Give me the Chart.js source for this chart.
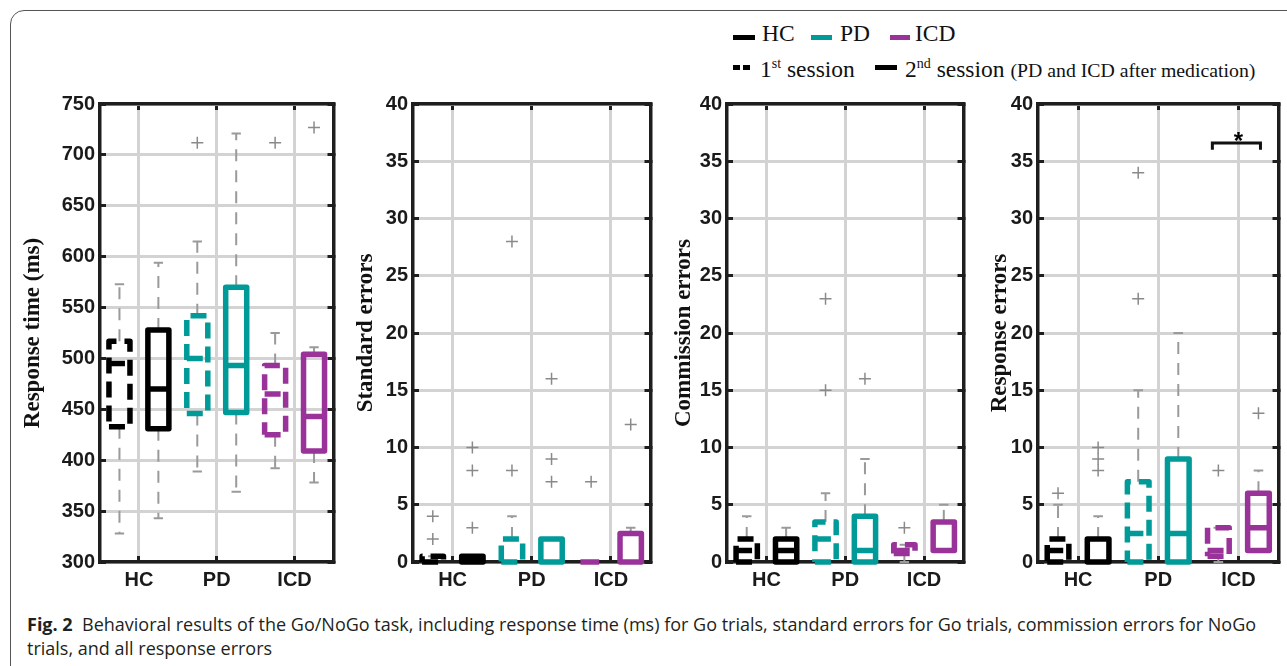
<!DOCTYPE html>
<html>
<head>
<meta charset="utf-8">
<script src="https://cdn.jsdelivr.net/npm/chart.js@4.4.0/dist/chart.umd.min.js"></script>
<style>
  body { margin: 0; background: #fff; }
  #fig { position: relative; width: 1287px; height: 666px; overflow: hidden; background: #fff; }
  .frame { position: absolute; left: 10px; top: 10px; width: 1300px; height: 700px;
           border: 1.5px solid #555; border-radius: 14px; }
  canvas { position: absolute; }
  .leg { position: absolute; font-family: "Liberation Serif", "Times New Roman", serif;
         font-size: 23.5px; color: #111; white-space: nowrap; line-height: 1; }
  .leg sup { font-size: 14px; }
  .leg small { font-size: 19.8px; }
  .mk { position: absolute; height: 5px; }
  .caption { position: absolute; left: 27px; top: 612px; font-family: "Open Sans", sans-serif;
             font-size: 18px; line-height: 24px; color: #231f20; white-space: nowrap; }
  .caption b { font-weight: 700; }
</style>
</head>
<body>
<div id="fig">
  <div class="frame"></div>

  <div class="mk" style="left:733px; top:35px; width:22px; background:#000;"></div>
  <div class="leg" style="left:762px; top:22px;">HC</div>
  <div class="mk" style="left:811px; top:35px; width:21px; background:#009b98;"></div>
  <div class="leg" style="left:840px; top:22px;">PD</div>
  <div class="mk" style="left:890px; top:35px; width:20px; background:#993399;"></div>
  <div class="leg" style="left:915px; top:22px;">ICD</div>

  <div class="mk" style="left:733px; top:65px; width:7px; background:#000;"></div>
  <div class="mk" style="left:743px; top:65px; width:7px; background:#000;"></div>
  <div class="leg" style="left:760px; top:57px;">1<sup>st</sup> session</div>
  <div class="mk" style="left:875px; top:65px; width:22px; background:#000;"></div>
  <div class="leg" style="left:905px; top:57px;">2<sup>nd</sup> session <small>(PD and ICD after medication)</small></div>

  <canvas id="c1" width="322" height="521" style="left:19px; top:81px;"></canvas>
  <canvas id="c2" width="306" height="521" style="left:352px; top:81px;"></canvas>
  <canvas id="c3" width="301" height="521" style="left:670px; top:81px;"></canvas>
  <canvas id="c4" width="300" height="521" style="left:986px; top:81px;"></canvas>

  <div class="caption"><b>Fig. 2</b>&nbsp; Behavioral results of the Go/NoGo task, including response time (ms) for Go trials, standard errors for Go trials, commission errors for NoGo<br>trials, and all response errors</div>
</div>

<script>
// groups and box order: HC s1, HC s2, PD s1, PD s2, ICD s1, ICD s2
const groupLabels = ['HC', 'PD', 'ICD'];
const groupTicks = [1.5, 3.5, 5.5];
const boxPos = [1, 2, 3, 4, 5, 6];
const boxSession = [1, 2, 1, 2, 1, 2];
const boxColor = ['#000000', '#000000', '#009b98', '#009b98', '#993399', '#993399'];

// response time (ms)
const rtLow    = [328, 343, 389, 369, 392, 378];
const rtQ1     = [433, 431, 446, 447, 425, 409];
const rtMedian = [495, 470, 500, 493, 465, 443];
const rtQ3     = [517, 528, 542, 570, 493, 504];
const rtHigh   = [573, 594, 615, 721, 525, 511];
const rtOutliers = [[], [], [712], [], [712], [727]];

// standard errors
const seLow    = [0, 0, 0, 0, 0, 0];
const seQ1     = [0, 0, 0, 0, 0, 0];
const seMedian = [0, 0.25, 0, 0, 0, 0];
const seQ3     = [0.5, 0.5, 2, 2, 0, 2.5];
const seHigh   = [0.5, 0.5, 4, 2, 0, 3];
const seOutliers = [[2, 4], [3, 8, 10], [8, 28], [7, 9, 16], [7], [12]];

// commission errors
const ceLow    = [0, 0, 0, 0, 0, 1];
const ceQ1     = [0, 0, 0, 0, 0.75, 1];
const ceMedian = [1, 1, 2, 1, 1, 1];
const ceQ3     = [2, 2, 3.5, 4, 1.5, 3.5];
const ceHigh   = [4, 3, 6, 9, 1.5, 5];
const ceOutliers = [[], [], [15, 23], [16], [3], []];

// response errors
const reLow    = [0, 0, 0, 0, 0, 1];
const reQ1     = [0, 0, 0, 0, 0.5, 1];
const reMedian = [1, 0, 2.5, 2.5, 1, 3];
const reQ3     = [2, 2, 7, 9, 3, 6];
const reHigh   = [5, 4, 15, 20, 3, 8];
const reOutliers = [[6], [8, 9, 10], [23, 34], [], [8], [13]];

// significance (response errors): ICD s1 vs s2
const sigFrom = [5];
const sigTo = [6];
const sigLevel = [36.6];
const sigLabel = ['*'];

const BW = 0.27;   // half box width (x units)
const CW = 0.12;   // half cap width
const GRID = '#d3d3d3';
const AXIS = '#1e1e1e';

function boxDatasets(low, q1, med, q3, high, outliers) {
  const sets = [];
  const outPts = [];
  boxPos.forEach((x, i) => {
    const dash = boxSession[i] === 1 ? [16, 8] : [];
    sets.push({
      data: [
        {x: x - BW, y: q1[i]}, {x: x + BW, y: q1[i]}, {x: x + BW, y: q3[i]},
        {x: x - BW, y: q3[i]}, {x: x - BW, y: q1[i]}, {x: x, y: null},
        {x: x - BW, y: med[i]}, {x: x + BW, y: med[i]}
      ],
      showLine: true, pointRadius: 0, borderColor: boxColor[i], borderWidth: 5.5,
      borderDash: dash, borderJoinStyle: 'round', clip: false, order: 1
    });
    sets.push({
      data: [{x: x, y: q3[i]}, {x: x, y: high[i]}, {x: x, y: null}, {x: x, y: q1[i]}, {x: x, y: low[i]}],
      showLine: true, pointRadius: 0, borderColor: '#9a9a9a', borderWidth: 2,
      borderDash: [12, 9], clip: false, order: 3
    });
    sets.push({
      data: [{x: x - CW, y: high[i]}, {x: x + CW, y: high[i]}, {x: x, y: null},
             {x: x - CW, y: low[i]}, {x: x + CW, y: low[i]}],
      showLine: true, pointRadius: 0, borderColor: '#9a9a9a', borderWidth: 2, clip: false, order: 3
    });
    outliers[i].forEach(v => outPts.push({x: x, y: v}));
  });
  sets.push({
    data: outPts, pointStyle: 'cross', pointRadius: 6, borderColor: '#8a8a8a',
    borderWidth: 1.5, showLine: false, order: 2
  });
  return sets;
}

const sigPlugin = {
  id: 'sigStar',
  afterDatasetsDraw(chart, args, opts) {
    if (!opts.show) return;
    const {ctx, scales: {x, y}} = chart;
    ctx.save();
    ctx.fillStyle = '#000';
    ctx.font = 'bold 24px "Liberation Sans"';
    ctx.textAlign = 'center';
    ctx.textBaseline = 'alphabetic';
    sigFrom.forEach((f, i) => {
      const px = x.getPixelForValue((f + sigTo[i]) / 2);
      const py = y.getPixelForValue(sigLevel[i]);
      ctx.fillText(sigLabel[i], px, py + 6);
    });
    ctx.restore();
  }
};

function makePanel(id, title, min, max, step, yWidth, sets, showSig) {
  if (showSig) {
    sigFrom.forEach((f, i) => {
      sets.push({
        data: [{x: f - 0.15, y: sigLevel[i] - 0.6}, {x: f - 0.15, y: sigLevel[i]},
               {x: sigTo[i] + 0.05, y: sigLevel[i]}, {x: sigTo[i] + 0.05, y: sigLevel[i] - 0.6}],
        showLine: true, pointRadius: 0, borderColor: '#111', borderWidth: 3, order: 0
      });
    });
  }
  const frameTicks = { tickLength: -6, tickColor: AXIS, tickWidth: 3 };
  new Chart(document.getElementById(id), {
    type: 'scatter',
    data: { datasets: sets },
    options: {
      responsive: false,
      animation: false,
      devicePixelRatio: 1,
      layout: { padding: 0 },
      plugins: { legend: { display: false }, tooltip: { enabled: false }, sigStar: { show: showSig } },
      scales: {
        x: {
          type: 'linear', position: 'bottom', min: 0.5, max: 6.5,
          afterBuildTicks: s => { s.ticks = groupTicks.map(v => ({value: v})); },
          afterFit: s => { s.height = 40; },
          ticks: {
            callback: (v, i) => groupLabels[i], maxRotation: 0, autoSkip: false, padding: 12,
            color: '#1a1a1a', font: { family: 'Liberation Sans', size: 20, weight: 'bold' }
          },
          grid: Object.assign({ color: GRID, lineWidth: 3 }, frameTicks),
          border: { color: AXIS, width: 3.5 }
        },
        xTop: {
          type: 'linear', axis: 'x', position: 'top', min: 0.5, max: 6.5,
          afterBuildTicks: s => { s.ticks = groupTicks.map(v => ({value: v})); },
          afterFit: s => { s.height = 15; },
          ticks: { display: false },
          grid: Object.assign({ drawOnChartArea: false }, frameTicks),
          border: { color: AXIS, width: 3.5 }
        },
        y: {
          type: 'linear', position: 'left', min: min, max: max,
          afterFit: s => { s.width = yWidth; },
          ticks: {
            stepSize: step, padding: 11, color: '#1a1a1a',
            font: { family: 'Liberation Sans', size: 20, weight: 'bold' }
          },
          title: {
            display: true, text: title, padding: 0, color: '#111',
            font: { family: 'Liberation Serif', size: 23, weight: 'bold' }
          },
          grid: Object.assign({ color: GRID, lineWidth: 3 }, frameTicks),
          border: { color: AXIS, width: 3.5 }
        },
        yR: {
          type: 'linear', axis: 'y', position: 'right', min: min, max: max,
          afterFit: s => { s.width = 6; },
          ticks: { display: false, stepSize: step },
          grid: Object.assign({ drawOnChartArea: false }, frameTicks),
          border: { color: AXIS, width: 3.5 }
        }
      }
    },
    plugins: [sigPlugin]
  });
}

makePanel('c1', 'Response time (ms)', 300, 750, 50, 81,
  boxDatasets(rtLow, rtQ1, rtMedian, rtQ3, rtHigh, rtOutliers), false);
makePanel('c2', 'Standard errors', 0, 40, 5, 61,
  boxDatasets(seLow, seQ1, seMedian, seQ3, seHigh, seOutliers), false);
makePanel('c3', 'Commission errors', 0, 40, 5, 57,
  boxDatasets(ceLow, ceQ1, ceMedian, ceQ3, ceHigh, ceOutliers), false);
makePanel('c4', 'Response errors', 0, 40, 5, 52,
  boxDatasets(reLow, reQ1, reMedian, reQ3, reHigh, reOutliers), true);
</script>
</body>
</html>
